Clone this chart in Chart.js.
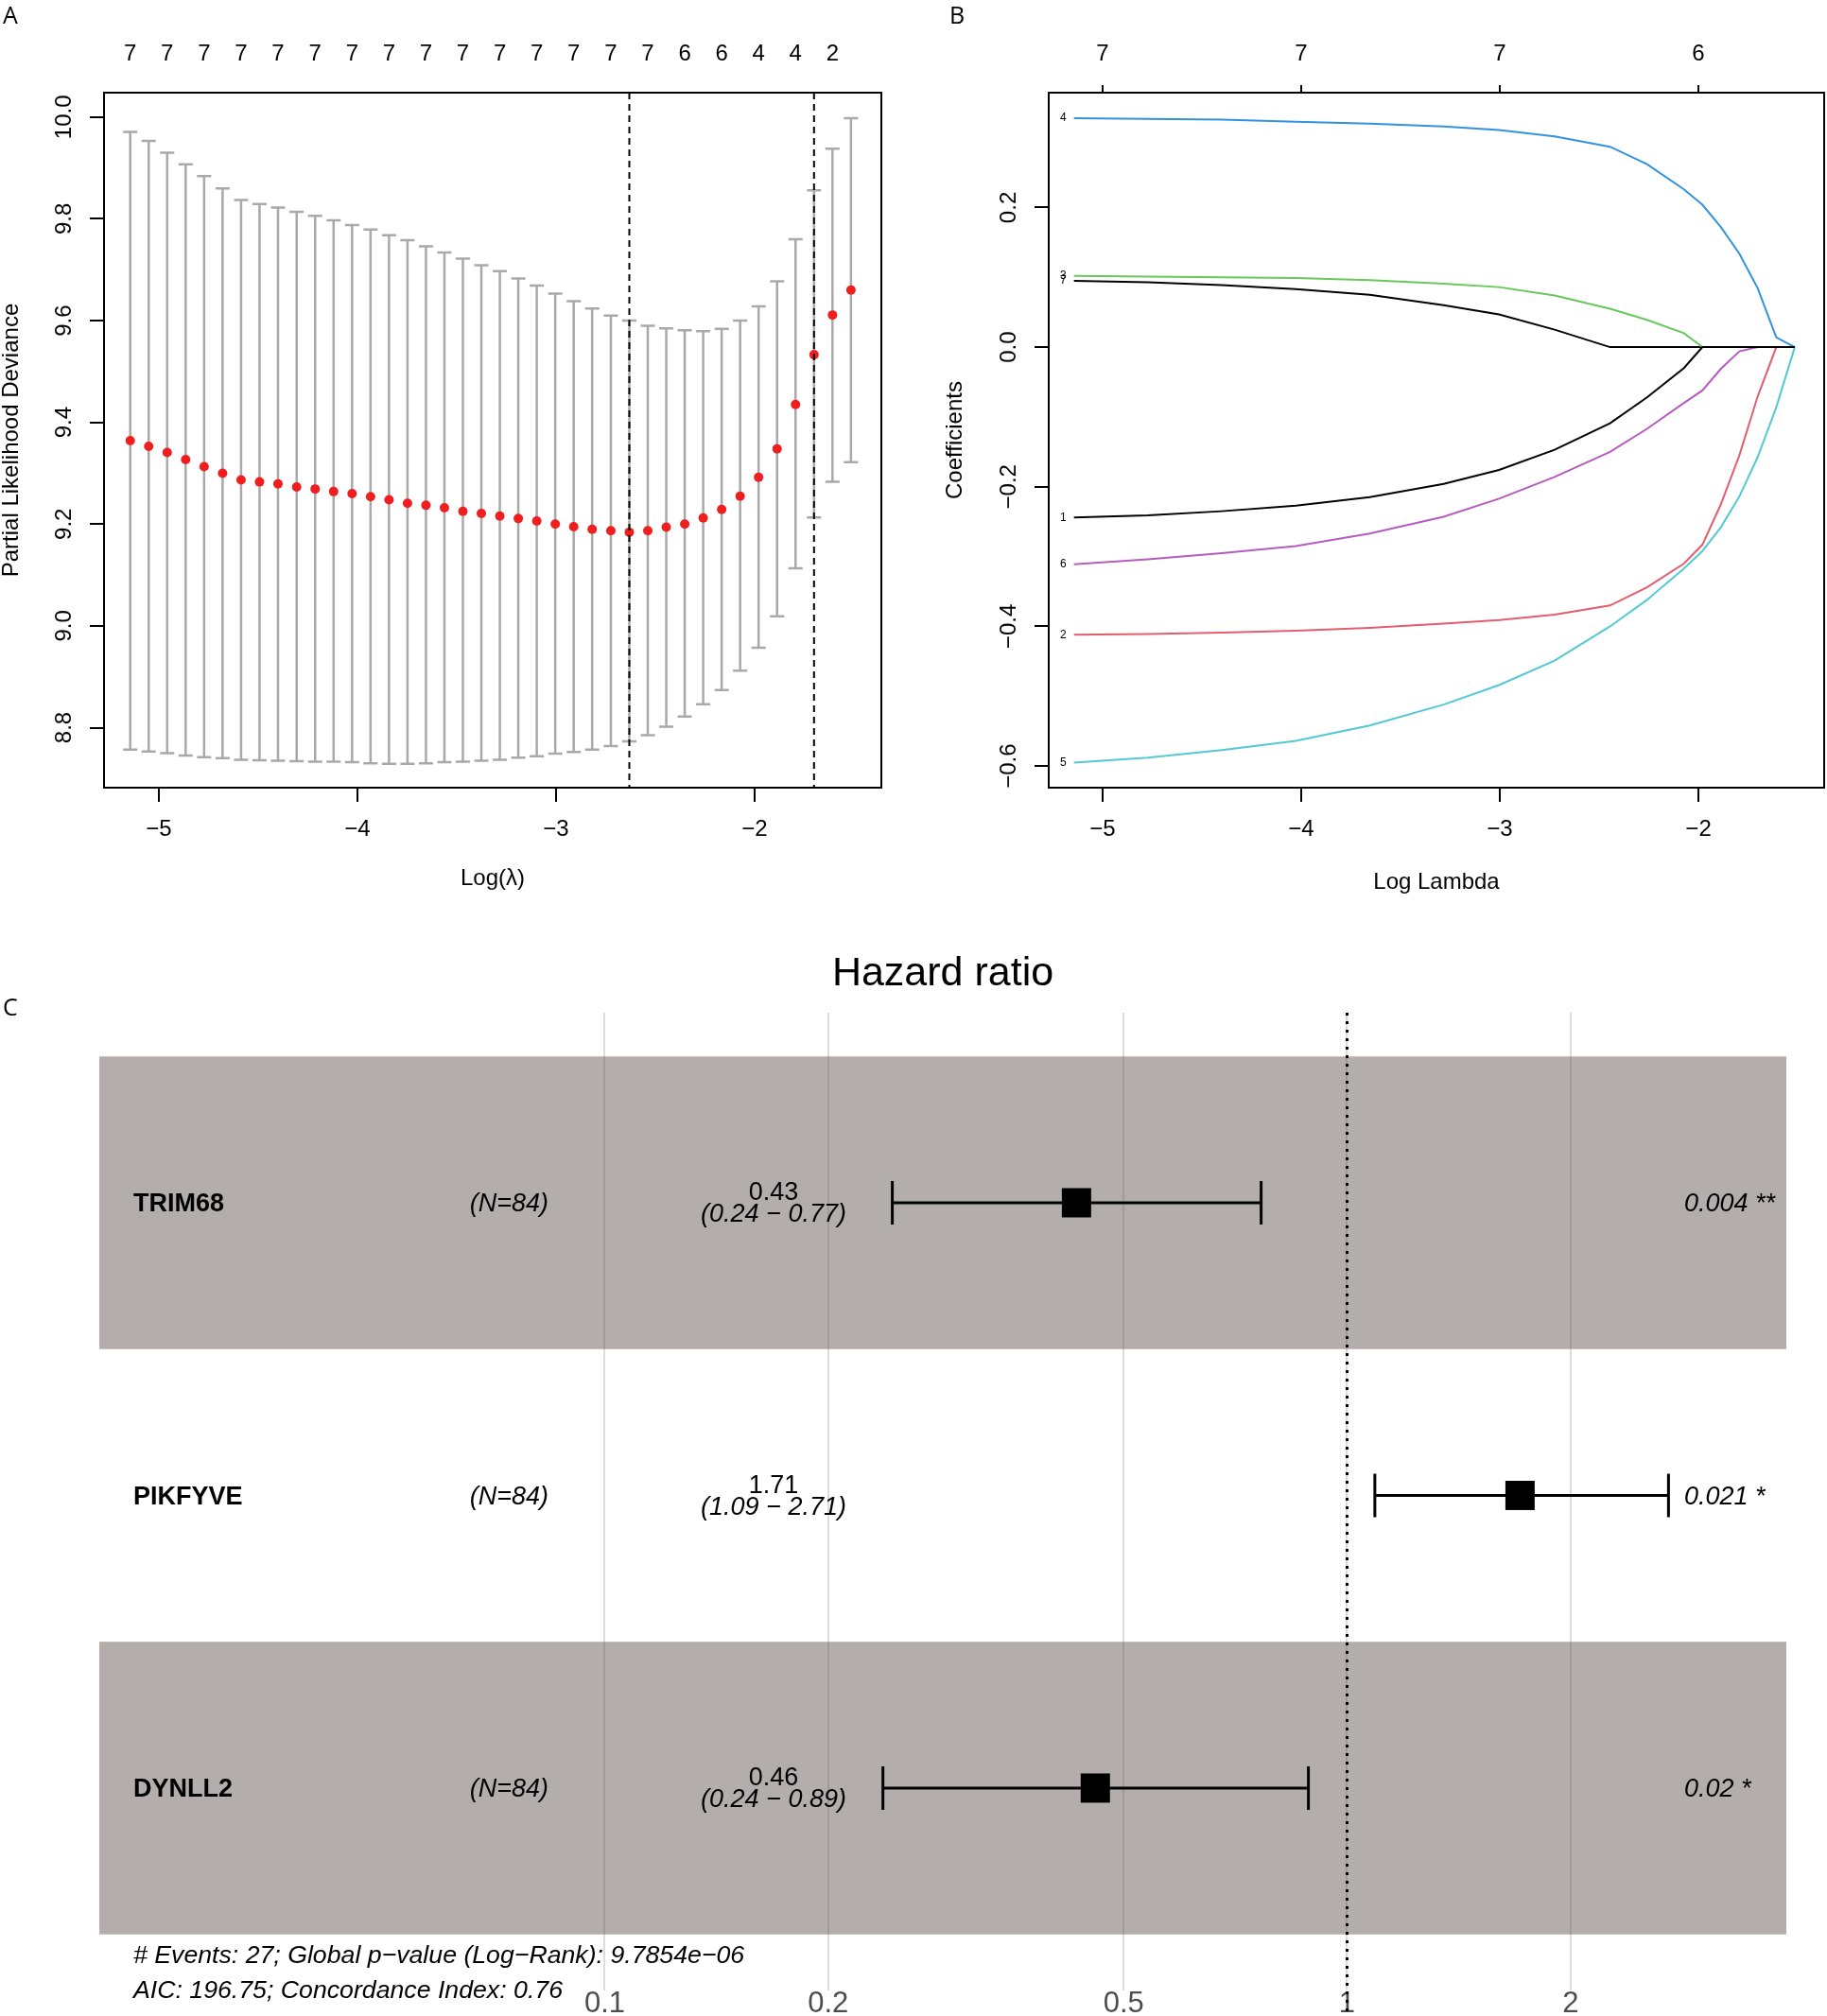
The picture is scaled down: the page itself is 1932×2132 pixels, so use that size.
<!DOCTYPE html>
<html>
<head>
<meta charset="utf-8">
<script src="https://cdn.jsdelivr.net/npm/chart.js@4.4.1/dist/chart.umd.min.js"></script>
<style>
html, body { margin: 0; padding: 0; background: #fff; }
#wrap { position: relative; width: 1932px; height: 2132px; overflow: hidden; }
canvas { position: absolute; }
.tag { position: absolute; font: 25px "Open Sans", sans-serif; line-height: 1; color: #000; }
</style>
</head>
<body>
<div id="wrap">
  <canvas id="cvChart" width="966" height="980" style="left:0;top:0"></canvas>
  <canvas id="pathChart" width="966" height="980" style="left:966px;top:0"></canvas>
  <canvas id="forestChart" width="1932" height="1152" style="left:0;top:980px"></canvas>
  <div class="tag" style="left:3px;top:3px">A</div>
  <div class="tag" style="left:1004px;top:3px">B</div>
  <div class="tag" style="left:3px;top:1052px">C</div>
</div>
<script>
// ---- panel A: cross-validation curve ----
const logLambda = [-5.144, -5.051, -4.958, -4.865, -4.772, -4.679, -4.586, -4.493, -4.400, -4.306,
                   -4.213, -4.120, -4.027, -3.934, -3.841, -3.748, -3.655, -3.562, -3.469, -3.376,
                   -3.283, -3.190, -3.097, -3.004, -2.911, -2.818, -2.724, -2.631, -2.538, -2.445,
                   -2.352, -2.259, -2.166, -2.073, -1.980, -1.887, -1.794, -1.701, -1.608, -1.515];
const cvMean = [9.364, 9.353, 9.341, 9.327, 9.313, 9.300, 9.287, 9.283, 9.279, 9.273,
                9.269, 9.264, 9.260, 9.254, 9.248, 9.241, 9.237, 9.232, 9.225, 9.221,
                9.216, 9.211, 9.206, 9.200, 9.195, 9.190, 9.187, 9.184, 9.187, 9.194,
                9.200, 9.212, 9.229, 9.255, 9.292, 9.348, 9.435, 9.533, 9.611, 9.660];
const cvUpper = [9.971, 9.953, 9.930, 9.907, 9.884, 9.860, 9.837, 9.829, 9.822, 9.814,
                 9.806, 9.797, 9.788, 9.779, 9.768, 9.758, 9.746, 9.734, 9.722, 9.709,
                 9.697, 9.683, 9.669, 9.653, 9.638, 9.624, 9.610, 9.600, 9.590, 9.585,
                 9.581, 9.579, 9.584, 9.600, 9.628, 9.677, 9.760, 9.856, 9.938, 9.998];
const cvLower = [8.757, 8.753, 8.750, 8.745, 8.742, 8.740, 8.737, 8.736, 8.735, 8.734,
                 8.733, 8.733, 8.732, 8.730, 8.729, 8.729, 8.730, 8.732, 8.733, 8.735,
                 8.737, 8.741, 8.744, 8.749, 8.752, 8.757, 8.764, 8.773, 8.785, 8.802,
                 8.822, 8.846, 8.874, 8.912, 8.957, 9.019, 9.113, 9.213, 9.283, 9.322];
const nzIndex = [0, 2, 4, 6, 8, 10, 12, 14, 16, 18, 20, 22, 24, 26, 28, 30, 32, 34, 36, 38];
const nzLabels = ['7', '7', '7', '7', '7', '7', '7', '7', '7', '7', '7', '7', '7', '7', '7', '6', '6', '4', '4', '2'];
const lambdaMinIdx = 27;
const lambda1seIdx = 37;
const xTicksLambda = [-5, -4, -3, -2];
const yTicksDev = [8.8, 9.0, 9.2, 9.4, 9.6, 9.8, 10.0];

// ---- panel B: coefficient paths ----
const pathX = [-5.144, -4.772, -4.400, -4.027, -3.655, -3.283, -3.004, -2.724, -2.445,
               -2.259, -2.073, -1.980, -1.887, -1.794, -1.701, -1.608, -1.515];
const coef1 = [-0.244, -0.241, -0.235, -0.227, -0.215, -0.196, -0.176, -0.147, -0.109, -0.072, -0.030, 0, 0, 0, 0, 0, 0];
const coef2 = [-0.412, -0.411, -0.409, -0.406, -0.402, -0.396, -0.391, -0.383, -0.370, -0.344, -0.310, -0.283, -0.225, -0.155, -0.070, 0, 0];
const coef3 = [0.102, 0.101, 0.100, 0.099, 0.096, 0.091, 0.086, 0.074, 0.055, 0.039, 0.020, 0, 0, 0, 0, 0, 0];
const coef4 = [0.328, 0.327, 0.326, 0.323, 0.320, 0.316, 0.311, 0.302, 0.287, 0.262, 0.226, 0.204, 0.172, 0.134, 0.084, 0.014, 0];
const coef5 = [-0.595, -0.588, -0.577, -0.564, -0.542, -0.512, -0.484, -0.449, -0.400, -0.362, -0.317, -0.292, -0.258, -0.214, -0.157, -0.086, 0];
const coef6 = [-0.311, -0.304, -0.295, -0.285, -0.267, -0.243, -0.217, -0.186, -0.150, -0.117, -0.080, -0.062, -0.031, -0.006, 0, 0, 0];
const coef7 = [0.095, 0.093, 0.089, 0.083, 0.075, 0.060, 0.047, 0.025, 0, 0, 0, 0, 0, 0, 0, 0, 0];
const pathCoefs = [coef1, coef2, coef3, coef4, coef5, coef6, coef7];
const pathNames = ['1', '2', '3', '4', '5', '6', '7'];
const dfTicks = [-5, -4, -3, -2];
const dfLabels = ['7', '7', '7', '6'];
const yTicksCoef = [-0.6, -0.4, -0.2, 0.0, 0.2];

// ---- panel C: forest plot ----
const genes = ['TRIM68', 'PIKFYVE', 'DYNLL2'];
const nLabels = ['(N=84)', '(N=84)', '(N=84)'];
const hazard = [0.432, 1.71, 0.458];
const ciLow = [0.244, 1.09, 0.237];
const ciHigh = [0.766, 2.71, 0.887];
const pLabels = ['0.004 **', '0.021 *', '0.02 *'];
const hrTicks = [0.1, 0.2, 0.5, 1, 2];
const footer = ['# Events: 27; Global p\u2212value (Log\u2212Rank): 9.7854e\u221206',
                'AIC: 196.75; Concordance Index: 0.76'];

const FONT = '"Liberation Sans", Arial, Helvetica, sans-serif';
Chart.defaults.font.family = FONT;
Chart.defaults.color = '#000';

const pathColors = ['#000000', '#e35d6f', '#67c95a', '#3392dd', '#52c9d3', '#b55cc0', '#000000'];

function fmt(v, digits) {
    let s = Number(v).toFixed(digits);
    if (Math.abs(v) < 1e-9) s = (0).toFixed(digits);
    return s.replace('-', '\u2212');
}
function fixWidth(w) { return s => { s.width = w; }; }
function fixHeight(h) { return s => { s.height = h; }; }
function setTicks(list) { return s => { s.ticks = list.map(v => ({ value: v })); }; }

function drawBox(ctx, a) {
    ctx.save();
    ctx.strokeStyle = '#000';
    ctx.lineWidth = 2;
    ctx.strokeRect(a.left, a.top, a.right - a.left, a.bottom - a.top);
    ctx.restore();
}

// y tick labels in R are turned on their side
function drawSideLabels(chart, offset) {
    const ctx = chart.ctx, y = chart.scales.y;
    const cx = chart.chartArea.left - offset;
    ctx.save();
    ctx.font = '24px ' + FONT;
    ctx.fillStyle = '#000';
    ctx.textAlign = 'center';
    ctx.textBaseline = 'middle';
    y.ticks.forEach(t => {
        ctx.save();
        ctx.translate(cx, y.getPixelForValue(t.value));
        ctx.rotate(-Math.PI / 2);
        ctx.fillText(t.label, 0, 0);
        ctx.restore();
    });
    ctx.restore();
}

const cvPlugin = {
    id: 'cvExtras',
    beforeDatasetsDraw(chart) {
        const { ctx, scales: { x, y } } = chart;
        ctx.save();
        ctx.strokeStyle = '#a9a9a9';
        ctx.lineWidth = 2.5;
        logLambda.forEach((lx, i) => {
            const px = x.getPixelForValue(lx);
            const top = y.getPixelForValue(cvUpper[i]);
            const bot = y.getPixelForValue(cvLower[i]);
            ctx.beginPath();
            ctx.moveTo(px, top); ctx.lineTo(px, bot);
            ctx.moveTo(px - 7.5, top); ctx.lineTo(px + 7.5, top);
            ctx.moveTo(px - 7.5, bot); ctx.lineTo(px + 7.5, bot);
            ctx.stroke();
        });
        ctx.restore();
    },
    afterDatasetsDraw(chart) {
        const { ctx, chartArea: a, scales: { x } } = chart;
        ctx.save();
        ctx.strokeStyle = '#000';
        ctx.lineWidth = 2;
        ctx.setLineDash([7, 5]);
        [lambdaMinIdx, lambda1seIdx].forEach(i => {
            const px = x.getPixelForValue(logLambda[i]);
            ctx.beginPath(); ctx.moveTo(px, a.top); ctx.lineTo(px, a.bottom); ctx.stroke();
        });
        ctx.restore();
    },
    afterDraw(chart) {
        drawBox(chart.ctx, chart.chartArea);
        drawSideLabels(chart, 42);
    }
};

new Chart(document.getElementById('cvChart'), {
    type: 'scatter',
    data: {
        datasets: [{
            data: logLambda.map((x, i) => ({ x: x, y: cvMean[i] })),
            pointRadius: 5,
            pointHoverRadius: 5,
            backgroundColor: '#f01f1f',
            borderWidth: 0
        }]
    },
    options: {
        responsive: false, animation: false, devicePixelRatio: 1, events: [],
        layout: { padding: { left: 0, right: 34, top: 0, bottom: 0 } },
        plugins: { legend: { display: false }, tooltip: { enabled: false } },
        scales: {
            x: {
                type: 'linear', position: 'bottom', min: -5.276, max: -1.362,
                afterBuildTicks: setTicks(xTicksLambda), afterFit: fixHeight(147),
                ticks: { callback: v => fmt(v, 0), font: { size: 24 }, padding: 14.6, autoSkip: false, maxRotation: 0, color: '#000' },
                grid: { drawOnChartArea: false, tickLength: 15, color: '#000', lineWidth: 2 },
                border: { display: false },
                title: { display: true, text: 'Log(\u03bb)', font: { size: 24, lineHeight: 1 }, padding: { top: 0, bottom: 39 }, color: '#000' }
            },
            x2: {
                type: 'linear', position: 'top', min: -5.276, max: -1.362,
                afterBuildTicks: setTicks(nzIndex.map(i => logLambda[i])), afterFit: fixHeight(98),
                ticks: { callback: (v, i) => nzLabels[i], font: { size: 24 }, padding: 18.6, autoSkip: false, maxRotation: 0, color: '#000' },
                grid: { display: false },
                border: { display: false }
            },
            y: {
                type: 'linear', min: 8.682, max: 10.048,
                afterBuildTicks: setTicks(yTicksDev), afterFit: fixWidth(110),
                ticks: { display: false, callback: v => fmt(v, 1) },
                grid: { drawOnChartArea: false, tickLength: 15, color: '#000', lineWidth: 2 },
                border: { display: false },
                title: { display: true, text: 'Partial Likelihood Deviance', font: { size: 24, lineHeight: 1 }, padding: 0, color: '#000' }
            }
        }
    },
    plugins: [cvPlugin]
});

const pathPlugin = {
    id: 'pathExtras',
    afterDatasetsDraw(chart) {
        const { ctx, scales: { x, y } } = chart;
        ctx.save();
        ctx.font = '12px ' + FONT;
        ctx.fillStyle = '#000';
        ctx.textAlign = 'right';
        ctx.textBaseline = 'middle';
        pathCoefs.forEach((c, k) => {
            ctx.fillText(pathNames[k], x.getPixelForValue(pathX[0]) - 8, y.getPixelForValue(c[0]));
        });
        ctx.restore();
    },
    afterDraw(chart) {
        drawBox(chart.ctx, chart.chartArea);
        drawSideLabels(chart, 42);
    }
};

new Chart(document.getElementById('pathChart'), {
    type: 'scatter',
    data: {
        datasets: pathCoefs.map((c, k) => ({
            data: pathX.map((x, i) => ({ x: x, y: c[i] })),
            showLine: true,
            borderColor: pathColors[k],
            borderWidth: 2,
            pointRadius: 0,
            tension: 0
        }))
    },
    options: {
        responsive: false, animation: false, devicePixelRatio: 1, events: [],
        layout: { padding: { left: 32, right: 3, top: 0, bottom: 0 } },
        plugins: { legend: { display: false }, tooltip: { enabled: false } },
        scales: {
            x: {
                type: 'linear', position: 'bottom', min: -5.271, max: -1.367,
                afterBuildTicks: setTicks(xTicksLambda), afterFit: fixHeight(147),
                ticks: { callback: v => fmt(v, 0), font: { size: 24 }, padding: 14.6, autoSkip: false, maxRotation: 0, color: '#000' },
                grid: { drawOnChartArea: false, tickLength: 15, color: '#000', lineWidth: 2 },
                border: { display: false },
                title: { display: true, text: 'Log Lambda', font: { size: 24, lineHeight: 1 }, padding: { top: 0, bottom: 35 }, color: '#000' }
            },
            x2: {
                type: 'linear', position: 'top', min: -5.271, max: -1.367,
                afterBuildTicks: setTicks(dfTicks), afterFit: fixHeight(98),
                ticks: { callback: (v, i) => dfLabels[i], font: { size: 24 }, padding: 18.6, autoSkip: false, maxRotation: 0, color: '#000' },
                grid: { drawOnChartArea: false, tickLength: 8, color: '#000', lineWidth: 2 },
                border: { display: false }
            },
            y: {
                type: 'linear', min: -0.631, max: 0.3645,
                afterBuildTicks: setTicks(yTicksCoef), afterFit: fixWidth(111),
                ticks: { display: false, callback: v => fmt(v, 1) },
                grid: { drawOnChartArea: false, tickLength: 15, color: '#000', lineWidth: 2 },
                border: { display: false },
                title: { display: true, text: 'Coefficients', font: { size: 24, lineHeight: 1 }, padding: 0, color: '#000' }
            }
        }
    },
    plugins: [pathPlugin]
});

const forestPlugin = {
    id: 'forestExtras',
    beforeDatasetsDraw(chart) {
        const { ctx, chartArea: a, scales: { x, y } } = chart;
        ctx.save();
        // shaded bands on every other row
        ctx.fillStyle = 'rgba(86, 75, 68, 0.45)';
        genes.forEach((g, i) => {
            if (i % 2 !== 0) return;
            const t = y.getPixelForValue(i + 0.5), b = y.getPixelForValue(i + 1.5);
            ctx.fillRect(a.left, t, a.right - a.left, b - t);
        });
        // reference line at HR = 1
        const p1 = x.getPixelForValue(1);
        ctx.strokeStyle = '#000';
        ctx.lineWidth = 3;
        ctx.setLineDash([3, 6]);
        ctx.beginPath(); ctx.moveTo(p1, a.top); ctx.lineTo(p1, chart.height); ctx.stroke();
        ctx.setLineDash([]);
        // confidence intervals
        genes.forEach((g, i) => {
            const py = y.getPixelForValue(i + 1);
            const l = x.getPixelForValue(ciLow[i]), h = x.getPixelForValue(ciHigh[i]);
            ctx.beginPath();
            ctx.moveTo(l, py); ctx.lineTo(h, py);
            ctx.moveTo(l, py - 23); ctx.lineTo(l, py + 23);
            ctx.moveTo(h, py - 23); ctx.lineTo(h, py + 23);
            ctx.stroke();
        });
        ctx.restore();
    },
    afterDatasetsDraw(chart) {
        const { ctx, chartArea: a, scales: { y } } = chart;
        ctx.save();
        ctx.fillStyle = '#000';
        ctx.textBaseline = 'middle';
        genes.forEach((g, i) => {
            const py = y.getPixelForValue(i + 1) + 2;
            ctx.textAlign = 'left';
            ctx.font = 'bold 27px ' + FONT;
            ctx.fillText(g, 141, py);
            ctx.textAlign = 'right';
            ctx.font = 'italic 27px ' + FONT;
            ctx.fillText(nLabels[i], 580, py);
            ctx.textAlign = 'center';
            ctx.font = '27px ' + FONT;
            ctx.fillText(hazard[i].toFixed(2), 818, py - 12);
            ctx.font = 'italic 27px ' + FONT;
            ctx.fillText('(' + ciLow[i].toFixed(2) + ' \u2212 ' + ciHigh[i].toFixed(2) + ')', 818, py + 11);
            ctx.textAlign = 'left';
            ctx.fillText(pLabels[i], 1781, py);
        });
        ctx.font = 'italic 26.7px ' + FONT;
        ctx.textAlign = 'left';
        ctx.fillText(footer[0], 141, 1089);
        ctx.fillText(footer[1], 141, 1126);
        ctx.font = '43px ' + FONT;
        ctx.textAlign = 'center';
        ctx.fillText('Hazard ratio', (a.left + a.right) / 2, 50);
        ctx.restore();
    }
};

new Chart(document.getElementById('forestChart'), {
    type: 'scatter',
    data: {
        datasets: [{
            data: genes.map((g, i) => ({ x: hazard[i], y: i + 1 })),
            pointStyle: 'rect',
            pointRadius: 21.9,
            pointHoverRadius: 21.9,
            backgroundColor: '#000',
            borderWidth: 0
        }]
    },
    options: {
        responsive: false, animation: false, devicePixelRatio: 1, events: [],
        layout: { padding: { left: 105, right: 43, top: 91, bottom: 0 } },
        plugins: { legend: { display: false }, tooltip: { enabled: false } },
        scales: {
            x: {
                type: 'logarithmic', position: 'bottom', min: 0.02085, max: 3.906,
                afterBuildTicks: setTicks(hrTicks), afterFit: fixHeight(27),
                ticks: { callback: v => String(v), font: { size: 31 }, color: '#4d4d4d', padding: -4, autoSkip: false, maxRotation: 0 },
                grid: { color: '#dcdcdc', lineWidth: 2, drawTicks: false },
                border: { display: false }
            },
            y: { type: 'linear', reverse: true, min: 0.3506, max: 3.6916, display: false }
        }
    },
    plugins: [forestPlugin]
});
</script>
</body>
</html>
